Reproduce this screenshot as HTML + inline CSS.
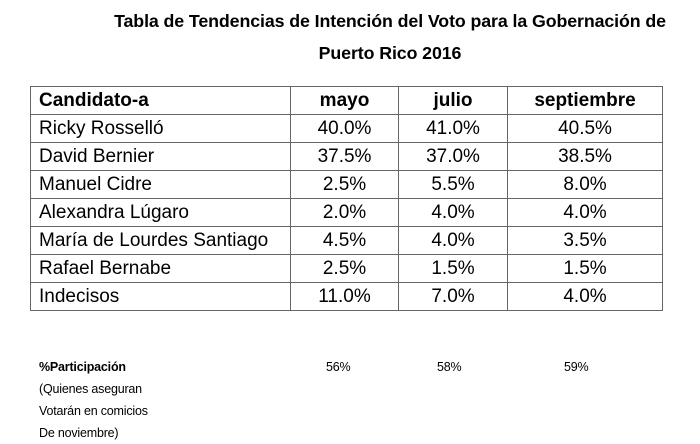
<!DOCTYPE html>
<html><head><meta charset="utf-8"><style>
body{margin:0;width:700px;height:439px;background:#fff;font-family:"Liberation Sans",sans-serif;color:#000;position:relative;overflow:hidden}
.t{position:absolute;left:60px;width:660px;text-align:center;font-weight:bold;font-size:17.8px;letter-spacing:-0.1px}
table{position:absolute;left:30px;top:86px;border-collapse:collapse;font-size:19px}
td{border:1.3px solid #666;height:27px;padding:0 8px;white-space:nowrap}
td.n{text-align:center}
.b{position:absolute;font-size:12.5px;line-height:22px;letter-spacing:-0.2px}
</style></head><body>
<div class="t" style="top:11px">Tabla de Tendencias de Intención del Voto para la Gobernación de</div>
<div class="t" style="top:43px">Puerto Rico 2016</div>
<table>
<tr style="font-weight:bold"><td style="width:243px">Candidato-a</td><td class="n" style="width:91px">mayo</td><td class="n" style="width:92px">julio</td><td class="n" style="width:138px">septiembre</td></tr>
<tr><td>Ricky Rosselló</td><td class="n">40.0%</td><td class="n">41.0%</td><td class="n">40.5%</td></tr>
<tr><td>David Bernier</td><td class="n">37.5%</td><td class="n">37.0%</td><td class="n">38.5%</td></tr>
<tr><td>Manuel Cidre</td><td class="n">2.5%</td><td class="n">5.5%</td><td class="n">8.0%</td></tr>
<tr><td>Alexandra Lúgaro</td><td class="n">2.0%</td><td class="n">4.0%</td><td class="n">4.0%</td></tr>
<tr><td>María de Lourdes Santiago</td><td class="n">4.5%</td><td class="n">4.0%</td><td class="n">3.5%</td></tr>
<tr><td>Rafael Bernabe</td><td class="n">2.5%</td><td class="n">1.5%</td><td class="n">1.5%</td></tr>
<tr><td>Indecisos</td><td class="n">11.0%</td><td class="n">7.0%</td><td class="n">4.0%</td></tr>
</table>
<div class="b" style="left:39px;top:356px"><b>%Participación</b><br>(Quienes aseguran<br>Votarán en comicios<br>De noviembre)</div>
<div class="b" style="left:326px;top:356px">56%</div>
<div class="b" style="left:437px;top:356px">58%</div>
<div class="b" style="left:564px;top:356px">59%</div>
</body></html>
